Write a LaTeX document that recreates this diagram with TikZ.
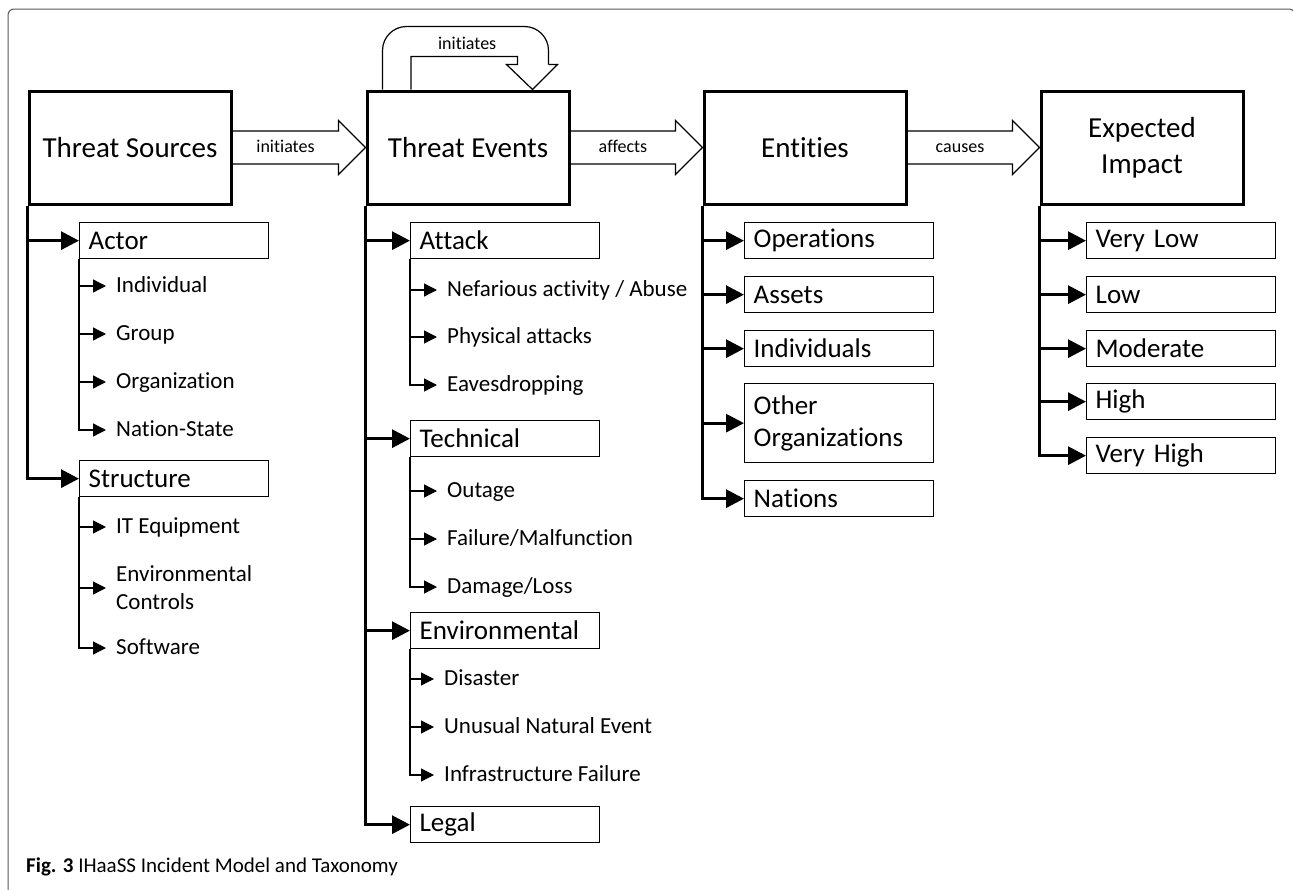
\documentclass[tikz,border=0pt]{standalone}
\usepackage{fontspec}
\setmainfont{Carlito}[Ligatures=NoCommon]
\usetikzlibrary{arrows.meta,calc}
\newcommand\blockarr[3]{%
  \draw[blockarrow] ($(#1.east)+(0,-16.5)$) -- ($(#2.west)+(-27,-16.5)$) -- ($(#2.west)+(-27,-27)$) -- (#2.west) -- ($(#2.west)+(-27,27)$) -- ($(#2.west)+(-27,16.5)$) -- ($(#1.east)+(0,16.5)$);
  \node[lbl] at ($(#1.east)!0.5!($(#2.west)+(-27,0)$)$) {#3};}
\begin{document}
\begin{tikzpicture}[x=1pt,y=-1pt,
  mainbox/.style={draw,line width=3pt,minimum width=202pt,minimum height=113pt,inner sep=0pt,font=\fontsize{29}{36}\selectfont,align=center},
  subbox/.style={draw,line width=1.3pt,minimum height=36pt,text width=171pt,inner xsep=9pt,inner ysep=0pt,align=left,anchor=north west,font=\fontsize{27}{32}\selectfont},
  child/.style={anchor=west,inner xsep=10pt,inner ysep=0pt,align=left,text height=16pt,text depth=4pt,font=\fontsize{23}{28}\selectfont},
  trunk/.style={line width=3pt,-{Triangle[length=18pt,width=18pt]}},
  branch/.style={line width=1.3pt,-{Triangle[length=13pt,width=13pt]}},
  blockarrow/.style={line width=1.2pt,line join=miter},
  lbl/.style={font=\fontsize{18}{20}\selectfont,inner sep=0pt,text height=12pt,text depth=3pt},
]
\useasboundingbox (0,0) rectangle (1293,889);
% frame
\draw[black!65,line width=1pt,rounded corners=6pt] (8,895) -- (8,9) -- (1295,9) -- (1295,895);

% main boxes
\node[mainbox] (ts) at (130,147.5) {Threat Sources};
\node[mainbox] (te) at (468,147.5) {Threat Events};
\node[mainbox] (ent) at (805,147.5) {Entities};
\node[mainbox] (ei) at (1142,147.5) {Expected\\[0pt]Impact};

% block arrows
\blockarr{ts}{te}{initiates}
\blockarr{te}{ent}{affects}
\blockarr{ent}{ei}{causes}

% self loop on Threat Events
\draw[blockarrow,rounded corners=24pt] ($(te.north west)+(17,0)$) -- ($(te.north west)+(17,-63)$) -- ($(te.north west)+(183,-63)$) -- ($(te.north west)+(183,-25)$);
\draw[blockarrow] ($(te.north west)+(183,-25)$) -- ($(te.north west)+(192,-25)$) -- ($(te.north west)+(167,0)$) -- ($(te.north west)+(141,-25)$) -- ($(te.north west)+(152,-25)$) -- ($(te.north west)+(152,-33)$) -- ($(te.north west)+(45.5,-33)$) -- ($(te.north west)+(45.5,0)$);
\node[lbl] (loopl) at ($(te.north west)+(101.7,-45)$) {initiates};

% column 1: Threat Sources
\node[subbox] (actor) at (79,222) {Actor};
\node[child] (ind) at (106,286) {Individual};
\node[child] (grp) at (106,334) {Group};
\node[child] (org) at (106,382) {Organization};
\node[child] (nat) at (106,430) {Nation-State};
\node[subbox] (struct) at (79,460) {Structure};
\node[child] (iteq) at (106,527) {IT Equipment};
\node[child,text height=,text depth=] (envc) at (106,588) {Environmental\\Controls};
\node[child] (soft) at (106,648) {Software};
\draw[trunk] (ts.south west) |- (actor.west);
\draw[trunk] (ts.south west) |- (struct.west);
\foreach \c in {ind,grp,org,nat} \draw[branch] (actor.south west) |- (\c.west);
\foreach \c in {iteq,envc,soft} \draw[branch] (struct.south west) |- (\c.west);

% column 2: Threat Events
\node[subbox] (attack) at (410,222) {Attack};
\node[child] (nef) at (437,290) {Nefarious activity / Abuse};
\node[child] (phys) at (437,337) {Physical attacks};
\node[child] (eav) at (437,385) {Eavesdropping};
\node[subbox] (tech) at (410,420) {Technical};
\node[child] (outg) at (437,491) {Outage};
\node[child] (fail) at (437,539) {Failure/Malfunction};
\node[child] (dmg) at (437,587) {Damage/Loss};
\node[subbox] (env) at (410,612) {Environmental};
\node[child] (dis) at (434,679) {Disaster};
\node[child] (unus) at (434,727) {Unusual Natural Event};
\node[child] (infra) at (434,775) {Infrastructure Failure};
\node[subbox] (legal) at (410,806) {Legal};
\foreach \b in {attack,tech,env,legal} \draw[trunk] (te.south west) |- (\b.west);
\foreach \c in {nef,phys,eav} \draw[branch] (attack.south west) |- (\c.west);
\foreach \c in {outg,fail,dmg} \draw[branch] (tech.south west) |- (\c.west);
\foreach \c in {dis,unus,infra} \draw[branch] (env.south west) |- (\c.west);

% column 3: Entities
\node[subbox] (ops) at (744,222) {Operations};
\node[subbox] (assets) at (744,276) {Assets};
\node[subbox] (indiv) at (744,330) {Individuals};
\node[subbox,minimum height=79pt] (oorg) at (744,383) {Other\\Organizations};
\node[subbox] (nations) at (744,480) {Nations};
\foreach \b in {ops,assets,indiv,oorg,nations} \draw[trunk] (ent.south west) |- (\b.west);

% column 4: Expected Impact
\node[subbox] (vlow) at (1086,222) {Very Low};
\node[subbox] (low) at (1086,276) {Low};
\node[subbox] (mod) at (1086,330) {Moderate};
\node[subbox] (high) at (1086,383) {High};
\node[subbox] (vhigh) at (1086,437) {Very High};
\foreach \b in {vlow,low,mod,high,vhigh} \draw[trunk] (ei.south west) |- (\b.west);

% caption
\node[anchor=west,inner sep=0pt,font=\fontsize{21}{24}\selectfont] (cap) at (26,867) {\textbf{Fig. 3} IHaaSS Incident Model and Taxonomy};
\end{tikzpicture}
\end{document}
